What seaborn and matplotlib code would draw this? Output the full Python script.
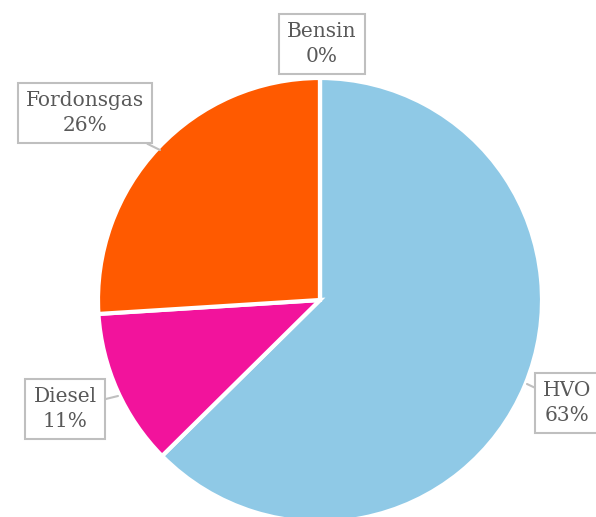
import matplotlib.pyplot as plt
import seaborn as sns

sns.set_style("white")
plt.rcParams['font.family'] = ['DejaVu Serif']

# Data
labels = ['HVO', 'Diesel', 'Fordonsgas', 'Bensin']
shares = [62.6, 11.4, 26.0, 0.0]
colors = ['#8FC9E6', '#F2139C', '#FF5A00', '#A5A5A5']

# label box centres and pointer tips, in pixels of the 596x517 picture
label_px = [(567, 403), (65, 409), (85, 113), (322, 44)]
tip_px = [(527, 384), (118, 396), (160, 150), None]

R = 222.0
CX, CY = 320.0, 300.0


def to_data(p):
    return ((p[0] - CX) / R, (CY - p[1]) / R)


fig = plt.figure(figsize=(5.96, 5.17), dpi=100)
ax = fig.add_axes([0, 0, 1, 1])

ax.pie(shares, colors=colors, startangle=90, counterclock=False,
       radius=1, center=(0, 0),
       wedgeprops=dict(edgecolor='white', linewidth=3))

box = dict(boxstyle='square,pad=0.4', fc='white', ec='#BFBFBF', lw=1.5)
for lab, val, pos, tip in zip(labels, shares, label_px, tip_px):
    txt = f"{lab}\n{round(val):.0f}%"
    x, y = to_data(pos)
    if tip is not None:
        tx, ty = to_data(tip)
        ax.annotate(txt, xy=(tx, ty), xytext=(x, y), ha='center', va='center',
                    fontsize=14.5, color='#595959', linespacing=1.4, bbox=box,
                    arrowprops=dict(arrowstyle='-', color='#BFBFBF', lw=1.5,
                                    shrinkA=0, shrinkB=0))
    else:
        ax.text(x, y, txt, ha='center', va='center', fontsize=14.5,
                color='#595959', linespacing=1.4, bbox=box)

ax.set_xlim(-CX / R, (596 - CX) / R)
ax.set_ylim((CY - 517) / R, CY / R)
ax.set_aspect('equal')
ax.axis('off')

fig.savefig('out.png', dpi=100)
